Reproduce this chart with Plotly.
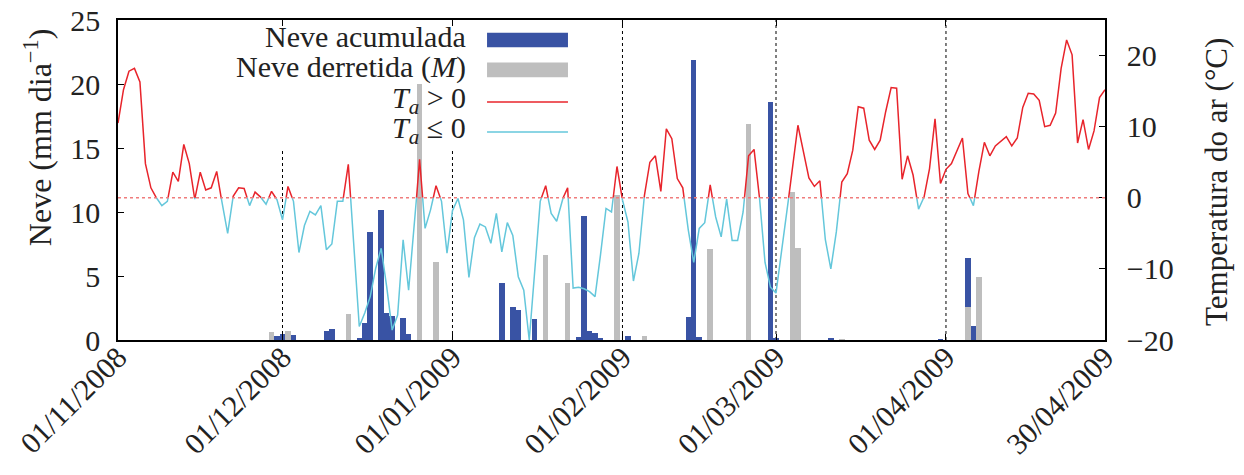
import datetime as dt
import plotly.graph_objects as go

# ---------------- data ----------------
start_date = "01/11/2008"
tick_labels = ["01/11/2008", "01/12/2008", "01/01/2009", "01/02/2009",
               "01/03/2009", "01/04/2009", "30/04/2009"]
vline_full = ["01/02/2009", "01/03/2009", "01/04/2009"]
vline_part = ["01/12/2008", "01/01/2009"]
temp_ticks = [-20, -10, 0, 10, 20]

# daily mean air temperature (degC), 01/11/2008 .. 30/04/2009
temperature = [
    10.5, 15.2, 17.8, 18.2, 16.3, 4.8, 1.4, 0.0, -1.1, -0.5,
    3.6, 2.3, 7.5, 4.8, -0.2, 3.6, 1.1, 1.4, 3.7, -0.8,
    -5.0, 0.2, 1.4, 1.3, -1.1, 0.8, 0.1, -0.9, 0.9, -0.3,
    -3.1, 1.6, -0.5, -7.7, -3.9, -1.9, -2.4, -1.1, -7.3, -6.5,
    -0.5, -0.5, 4.7, -6.4, -18.1, -16.2, -13.9, -9.9, -7.1, -12.5,
    -18.6, -16.5, -5.9, -13.0, -4.3, 5.4, -4.3, -1.7, 1.7, -0.5,
    -7.8, -1.8, -0.1, -3.1, -11.2, -5.6, -3.7, -4.1, -6.4, -2.2,
    -7.6, -3.5, -5.3, -11.1, -13.0, -20.0, -10.3, -0.5, 1.7, -2.2,
    -3.3, -0.3, 1.4, -12.7, -12.6, -12.8, -13.2, -13.9, -8.0, -1.5,
    -2.0, 4.4, -0.3, -3.4, -11.7, -7.8, 0.3, 5.0, 5.9, 0.9,
    9.7, 8.3, 2.7, 1.4, -4.5, -9.1, -4.3, -3.5, 1.8, -2.7,
    -5.5, -0.2, -6.0, -6.0, -2.0, 5.9, 6.8, -0.1, -9.1, -12.6,
    -13.4, -7.5, -2.0, 4.5, 10.2, 6.5, 2.8, 1.6, 2.4, -5.9,
    -10.0, -4.8, 2.2, 3.4, 6.7, 12.8, 12.6, 8.1, 6.8, 8.1,
    12.1, 15.5, 15.4, 2.6, 5.9, 3.2, -1.6, 0.1, 4.1, 11.1,
    2.0, 4.0, 4.8, 6.6, 8.4, 0.6, -1.1, 3.7, 7.8, 5.9,
    7.3, 8.0, 8.6, 7.3, 8.4, 12.7, 14.7, 14.6, 13.7, 10.0,
    10.2, 11.9, 18.2, 22.2, 20.1, 7.7, 11.0, 6.8, 9.4, 14.1,
    15.2,
]

# accumulated snow (mm/day): day index since start, value
acc_days = [29, 30, 32, 38, 39, 44, 45, 46, 48, 49, 50, 52, 53, 70, 72, 73, 76,
            84, 85, 86, 87, 88, 93, 104, 105, 106, 119, 120, 130, 150, 155, 156]
acc_vals = [0.3, 0.45, 0.4, 0.7, 0.85, 0.1, 1.35, 8.4, 10.15, 2.1, 1.85, 1.75, 0.5,
            4.45, 2.6, 2.35, 1.65, 0.2, 9.7, 0.7, 0.55, 0.15, 0.3, 1.8, 21.9, 0.2,
            18.6, 0.1, 0.1, 0.05, 6.4, 1.1]

# melted snow M (mm/day)
melt_days = [28, 31, 42, 55, 58, 78, 82, 91, 96, 108, 115, 123, 124, 132, 155, 157]
melt_vals = [0.65, 0.7, 2.0, 20.0, 6.1, 6.65, 4.45, 11.3, 0.3, 7.1, 16.85, 11.6,
             7.15, 0.05, 2.6, 4.9]

# ---------------- helpers ----------------
fmt = "%d/%m/%Y"
d0 = dt.datetime.strptime(start_date, fmt)


def day_index(s):
    return (dt.datetime.strptime(s, fmt) - d0).days


days = list(range(len(temperature)))


def split_sign(xs, ys):
    """Split a polyline into the part above 0 and the part at/below 0."""
    pos_x, pos_y, neg_x, neg_y = [], [], [], []

    def add(lx, ly, a, b):
        if lx and lx[-1] is not None and lx[-1] == a[0] and ly[-1] == a[1]:
            lx.append(b[0]); ly.append(b[1])
        else:
            if lx:
                lx.append(None); ly.append(None)
            lx.extend([a[0], b[0]]); ly.extend([a[1], b[1]])

    for i in range(len(xs) - 1):
        x0, y0, x1, y1 = xs[i], ys[i], xs[i + 1], ys[i + 1]
        p0, p1 = y0 > 0, y1 > 0
        if p0 == p1:
            if p0:
                add(pos_x, pos_y, (x0, y0), (x1, y1))
            else:
                add(neg_x, neg_y, (x0, y0), (x1, y1))
        else:
            xc = x0 + (0 - y0) * (x1 - x0) / (y1 - y0)
            if p0:
                add(pos_x, pos_y, (x0, y0), (xc, 0.0))
                add(neg_x, neg_y, (xc, 0.0), (x1, y1))
            else:
                add(neg_x, neg_y, (x0, y0), (xc, 0.0))
                add(pos_x, pos_y, (xc, 0.0), (x1, y1))
    return pos_x, pos_y, neg_x, neg_y


px, py, nx, ny = split_sign(days, temperature)

BLUE = "#3953a4"
GRAY = "#bebebe"
RED = "#e8242b"
CYAN = "#64c7db"
FONT = "Liberation Serif"
TXT = "#222222"

fig = go.Figure()
fig.add_trace(go.Bar(x=acc_days, y=acc_vals, width=1.0, marker_color=BLUE,
                     marker_line_width=0, name="Neve acumulada", showlegend=False))
fig.add_trace(go.Bar(x=melt_days, y=melt_vals, width=1.0, marker_color=GRAY,
                     marker_line_width=0, name="Neve derretida", showlegend=False))
fig.add_trace(go.Scatter(x=px, y=py, yaxis="y2", mode="lines",
                         line=dict(color=RED, width=1.5), showlegend=False,
                         connectgaps=False))
fig.add_trace(go.Scatter(x=nx, y=ny, yaxis="y2", mode="lines",
                         line=dict(color=CYAN, width=1.5), showlegend=False,
                         connectgaps=False))

tickvals = [day_index(s) for s in tick_labels]

shapes = []
for s in vline_full:
    shapes.append(dict(type="line", xref="x", yref="paper", x0=day_index(s), x1=day_index(s),
                       y0=0, y1=1, line=dict(color="black", width=1, dash="dot"), layer="below"))
for s in vline_part:
    shapes.append(dict(type="line", xref="x", yref="paper", x0=day_index(s), x1=day_index(s),
                       y0=0, y1=0.6, line=dict(color="black", width=1, dash="dot"), layer="below"))
shapes.append(dict(type="line", xref="paper", yref="y2", x0=0, x1=1, y0=0, y1=0,
                   line=dict(color="#f07c7c", width=1.5, dash="dot")))

# legend (text on the left, key sample on the right)
leg_text_x = 0.3546
leg_x0, leg_x1 = 0.3739, 0.4559
text_rows = [0.947, 0.853, 0.749, 0.655]
key_rows = [0.9375, 0.844, 0.7438, 0.65]
labels = ["Neve acumulada", "Neve derretida (<i>M</i>)",
          "<i>T</i><sub><i>a</i></sub> > 0", "<i>T</i><sub><i>a</i></sub> ≤ 0"]
annotations = []
for lab, yy in zip(labels, text_rows):
    annotations.append(dict(xref="paper", yref="paper", x=leg_text_x, y=yy, text=lab,
                            showarrow=False, xanchor="right", yanchor="middle",
                            font=dict(family=FONT, size=30, color=TXT)))
shapes.append(dict(type="rect", xref="paper", yref="paper", x0=leg_x0, x1=leg_x1,
                   y0=key_rows[0] - 0.023, y1=key_rows[0] + 0.023, fillcolor=BLUE, line_width=0))
shapes.append(dict(type="rect", xref="paper", yref="paper", x0=leg_x0, x1=leg_x1,
                   y0=key_rows[1] - 0.023, y1=key_rows[1] + 0.023, fillcolor=GRAY, line_width=0))
shapes.append(dict(type="line", xref="paper", yref="paper", x0=leg_x0, x1=leg_x1,
                   y0=key_rows[2], y1=key_rows[2], line=dict(color=RED, width=1.5)))
shapes.append(dict(type="line", xref="paper", yref="paper", x0=leg_x0, x1=leg_x1,
                   y0=key_rows[3], y1=key_rows[3], line=dict(color=CYAN, width=1.5)))

# axis titles
annotations.append(dict(xref="paper", yref="paper", x=-0.081, y=0.634,
                        text="Neve (mm dia<sup>−1</sup>)", textangle=-90, showarrow=False,
                        xanchor="center", yanchor="middle",
                        font=dict(family=FONT, size=32, color=TXT)))
annotations.append(dict(xref="paper", yref="paper", x=1.1135, y=0.494,
                        text="Temperatura do ar (°C)", textangle=-90, showarrow=False,
                        xanchor="center", yanchor="middle",
                        font=dict(family=FONT, size=31, color=TXT)))

tickfont = dict(family=FONT, size=30, color=TXT)

fig.update_layout(
    width=1244, height=475,
    margin=dict(l=118, r=139, t=20, b=135),
    paper_bgcolor="white", plot_bgcolor="white",
    barmode="overlay", bargap=0,
    font=dict(family=FONT, color=TXT),
    shapes=shapes, annotations=annotations,
    xaxis=dict(range=[0, 180], tickvals=tickvals, ticktext=tick_labels, tickangle=-45,
               ticks="inside", ticklen=6, tickcolor="black", showline=True, linecolor="black",
               linewidth=1.5, mirror="ticks", showgrid=False, zeroline=False,
               tickfont=dict(family=FONT, size=30, color=TXT), automargin=False,
               ticklabelstandoff=-14),
    yaxis=dict(range=[0, 25], dtick=5, ticks="inside", ticklen=6, tickcolor="black",
               showline=True, linecolor="black", linewidth=1.5, showgrid=False, zeroline=False,
               tickfont=tickfont, ticklabelstandoff=10, automargin=False),
    yaxis2=dict(range=[-20, 25], tickvals=temp_ticks, overlaying="y", side="right",
                ticks="inside", ticklen=6, tickcolor="black", showline=True, linecolor="black",
                linewidth=1.5, showgrid=False, zeroline=False, tickfont=tickfont,
                ticklabelstandoff=14, automargin=False),
)

fig.write_html("out.html")
